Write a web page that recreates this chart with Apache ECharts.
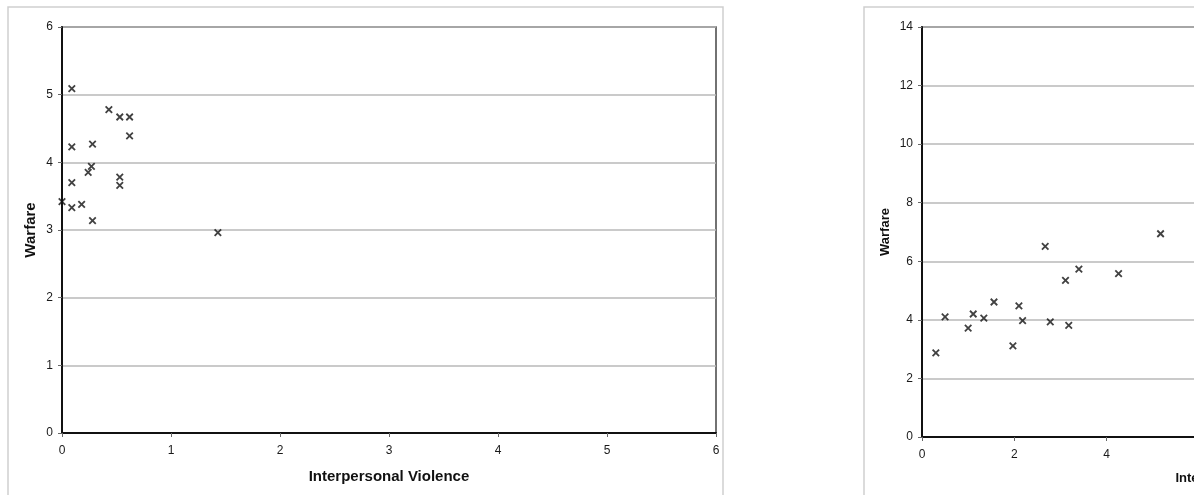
<!DOCTYPE html>
<html>
<head>
<meta charset="utf-8">
<style>
  html, body { margin: 0; padding: 0; background: #fff; overflow: hidden; }
  #chart { width: 1600px; height: 495px; }
</style>
<script src="https://cdn.jsdelivr.net/npm/echarts@6/dist/echarts.min.js"></script>
</head>
<body>
<div id="chart"></div>
<script>
// Left panel: interpersonal violence vs warfare
const leftViolence = [0.09, 0.43, 0.53, 0.62, 0.62, 0.09, 0.28, 0.27, 0.24, 0.09, 0.53, 0.53, 0.00, 0.09, 0.18, 0.28, 1.43];
const leftWarfare  = [5.09, 4.78, 4.67, 4.67, 4.39, 4.23, 4.27, 3.94, 3.85, 3.70, 3.78, 3.66, 3.42, 3.33, 3.38, 3.14, 2.96];

// Right panel: interpersonal violence vs warfare
const rightViolence = [0.30, 0.50, 1.00, 1.11, 1.34, 1.56, 1.97, 2.10, 2.18, 2.67, 2.78, 3.11, 3.18, 3.40, 4.26, 5.17];
const rightWarfare  = [2.87, 4.10, 3.72, 4.20, 4.06, 4.61, 3.11, 4.48, 3.97, 6.51, 3.93, 5.35, 3.81, 5.73, 5.58, 6.94];

const xTitle = 'Interpersonal Violence';
const yTitle = 'Warfare';

const pairs = (xs, ys) => xs.map((x, i) => [x, ys[i]]);

const FONT = '"Liberation Sans", Arial, sans-serif';
const crossSymbol = 'path://M0,0L10,10M10,0L0,10';

function valueAxis(gridIndex, max, interval, name, nameSize, nameGap, isX) {
  return {
    type: 'value',
    gridIndex,
    min: 0,
    max,
    interval,
    name,
    nameLocation: 'middle',
    nameGap,
    nameTextStyle: { fontFamily: FONT, fontWeight: 'bold', fontSize: nameSize, color: '#111' },
    axisLine: { show: true, onZero: false, lineStyle: { color: '#111', width: 2 } },
    axisTick: { show: true, inside: false, length: 4, lineStyle: { color: '#666', width: 1 } },
    axisLabel: { fontFamily: FONT, fontSize: 12, color: '#1a1a1a', margin: isX ? 12 : 9 },
    splitLine: { show: !isX, lineStyle: { color: '#b9b9b9', width: 1.5 } }
  };
}

function scatter(xAxisIndex, yAxisIndex, data) {
  return {
    type: 'scatter',
    xAxisIndex, yAxisIndex,
    data,
    symbol: crossSymbol,
    symbolSize: 6.5,
    itemStyle: { color: 'transparent', borderColor: '#111', borderWidth: 1.8 },
    emphasis: { disabled: true },
    silent: true
  };
}

const chart = echarts.init(document.getElementById('chart'), null, { renderer: 'canvas' });

chart.setOption({
  animation: false,
  backgroundColor: '#fff',
  graphic: [
    { type: 'rect', shape: { x: 8, y: 7, width: 715, height: 520 },
      style: { fill: 'none', stroke: '#cfcfcf', lineWidth: 1.5 }, z: -1, silent: true },
    { type: 'rect', shape: { x: 864, y: 7, width: 730, height: 520 },
      style: { fill: 'none', stroke: '#cfcfcf', lineWidth: 1.5 }, z: -1, silent: true }
  ],
  grid: [
    { left: 62, top: 27, width: 654, height: 406, show: true, borderColor: '#444', borderWidth: 1.5, backgroundColor: '#fff' },
    { left: 922, top: 27, width: 646, height: 410, show: true, borderColor: '#444', borderWidth: 1.5, backgroundColor: '#fff' }
  ],
  xAxis: [
    valueAxis(0, 6, 1, xTitle, 15, 36, true),
    valueAxis(1, 14, 2, xTitle, 13, 35, true)
  ],
  yAxis: [
    valueAxis(0, 6, 1, yTitle, 15, 24, false),
    valueAxis(1, 14, 2, yTitle, 13, 30, false)
  ],
  series: [
    scatter(0, 0, pairs(leftViolence, leftWarfare)),
    scatter(1, 1, pairs(rightViolence, rightWarfare))
  ]
});
</script>
</body>
</html>
